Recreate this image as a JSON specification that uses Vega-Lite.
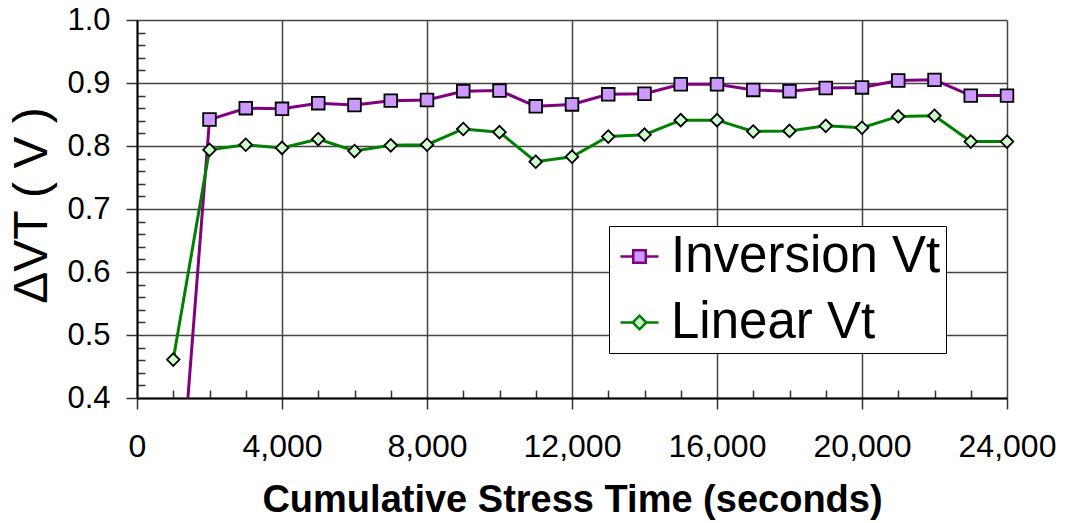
{
  "$schema": "https://vega.github.io/schema/vega-lite/v6.json",
  "width": 870,
  "height": 378,
  "autosize": {"type": "none"},
  "padding": {"left": 137, "top": 20, "right": 59, "bottom": 125},
  "background": "white",
  "config": {
    "view": {"stroke": null},
    "font": "Liberation Sans",
    "axis": {"labelFont": "Liberation Sans", "titleFont": "Liberation Sans", "labelColor": "black", "titleColor": "black"}
  },
  "data": {
    "values": [
      {"t": 1000, "series": "Inversion Vt", "v": 0.10},
      {"t": 2000, "series": "Inversion Vt", "v": 0.842},
      {"t": 3000, "series": "Inversion Vt", "v": 0.860},
      {"t": 4000, "series": "Inversion Vt", "v": 0.859},
      {"t": 5000, "series": "Inversion Vt", "v": 0.868},
      {"t": 6000, "series": "Inversion Vt", "v": 0.865},
      {"t": 7000, "series": "Inversion Vt", "v": 0.872},
      {"t": 8000, "series": "Inversion Vt", "v": 0.873},
      {"t": 9000, "series": "Inversion Vt", "v": 0.887},
      {"t": 10000, "series": "Inversion Vt", "v": 0.888},
      {"t": 11000, "series": "Inversion Vt", "v": 0.863},
      {"t": 12000, "series": "Inversion Vt", "v": 0.866},
      {"t": 13000, "series": "Inversion Vt", "v": 0.882},
      {"t": 14000, "series": "Inversion Vt", "v": 0.883},
      {"t": 15000, "series": "Inversion Vt", "v": 0.898},
      {"t": 16000, "series": "Inversion Vt", "v": 0.898},
      {"t": 17000, "series": "Inversion Vt", "v": 0.889},
      {"t": 18000, "series": "Inversion Vt", "v": 0.887},
      {"t": 19000, "series": "Inversion Vt", "v": 0.892},
      {"t": 20000, "series": "Inversion Vt", "v": 0.893},
      {"t": 21000, "series": "Inversion Vt", "v": 0.904},
      {"t": 22000, "series": "Inversion Vt", "v": 0.905},
      {"t": 23000, "series": "Inversion Vt", "v": 0.880},
      {"t": 24000, "series": "Inversion Vt", "v": 0.880},
      {"t": 1000, "series": "Linear Vt", "v": 0.461},
      {"t": 2000, "series": "Linear Vt", "v": 0.794},
      {"t": 3000, "series": "Linear Vt", "v": 0.802},
      {"t": 4000, "series": "Linear Vt", "v": 0.797},
      {"t": 5000, "series": "Linear Vt", "v": 0.811},
      {"t": 6000, "series": "Linear Vt", "v": 0.792},
      {"t": 7000, "series": "Linear Vt", "v": 0.801},
      {"t": 8000, "series": "Linear Vt", "v": 0.802},
      {"t": 9000, "series": "Linear Vt", "v": 0.827},
      {"t": 10000, "series": "Linear Vt", "v": 0.822},
      {"t": 11000, "series": "Linear Vt", "v": 0.775},
      {"t": 12000, "series": "Linear Vt", "v": 0.783},
      {"t": 13000, "series": "Linear Vt", "v": 0.815},
      {"t": 14000, "series": "Linear Vt", "v": 0.818},
      {"t": 15000, "series": "Linear Vt", "v": 0.841},
      {"t": 16000, "series": "Linear Vt", "v": 0.841},
      {"t": 17000, "series": "Linear Vt", "v": 0.823},
      {"t": 18000, "series": "Linear Vt", "v": 0.824},
      {"t": 19000, "series": "Linear Vt", "v": 0.832},
      {"t": 20000, "series": "Linear Vt", "v": 0.829},
      {"t": 21000, "series": "Linear Vt", "v": 0.847},
      {"t": 22000, "series": "Linear Vt", "v": 0.848},
      {"t": 23000, "series": "Linear Vt", "v": 0.807},
      {"t": 24000, "series": "Linear Vt", "v": 0.807}
    ]
  },
  "encoding": {
    "x": {
      "field": "t", "type": "quantitative",
      "scale": {"domain": [0, 24000], "nice": false, "zero": false},
      "axis": {
        "values": [0,1000,2000,3000,4000,5000,6000,7000,8000,9000,10000,11000,12000,13000,14000,15000,16000,17000,18000,19000,20000,21000,22000,23000,24000],
        "labelExpr": "datum.value % 4000 === 0 ? format(datum.value, ',') : ''",
        "labelFontSize": 32,
        "labelPadding": 22,
        "labelFlush": false,
        "labelOverlap": false,
        "domainColor": "black", "domainWidth": 2,
        "tickColor": "#333",
        "tickWidth": 1.5,
        "tickSize": {"condition": {"test": "datum.value % 4000 === 0", "value": 11}, "value": -8},
        "grid": true,
        "gridColor": "#444",
        "gridWidth": 1.5,
        "gridOpacity": {"condition": {"test": "datum.value % 4000 === 0", "value": 1}, "value": 0},
        "title": "Cumulative Stress Time (seconds)",
        "titleFontSize": 38,
        "titleFontWeight": "bold",
        "titleX": 435,
        "titleY": 113,
        "titleBaseline": "alphabetic",
        "titleAlign": "center"
      }
    },
    "y": {
      "field": "v", "type": "quantitative",
      "scale": {"domain": [0.4, 1.0], "nice": false, "zero": false},
      "axis": {
        "values": [0.4,0.42,0.44,0.46,0.48,0.5,0.52,0.54,0.56,0.58,0.6,0.62,0.64,0.66,0.68,0.7,0.72,0.74,0.76,0.78,0.8,0.82,0.84,0.86,0.88,0.9,0.92,0.94,0.96,0.98,1.0],
        "labelExpr": "abs(datum.value*10 - round(datum.value*10)) < 0.001 ? format(datum.value, '.1f') : ''",
        "labelFontSize": 31,
        "labelPadding": 16,
        "labelFlush": false,
        "labelOverlap": false,
        "labelBaseline": "middle",
        "domainColor": "black", "domainWidth": 2,
        "tickColor": "#333",
        "tickWidth": 1.5,
        "tickSize": {"condition": {"test": "abs(datum.value*10 - round(datum.value*10)) < 0.001", "value": 11}, "value": -8},
        "grid": true,
        "gridColor": "#444",
        "gridWidth": 1.5,
        "gridOpacity": {"condition": {"test": "abs(datum.value*10 - round(datum.value*10)) < 0.001", "value": 1}, "value": 0},
        "title": "ΔVT ( V )",
        "titleFontSize": 48,
        "titleFontWeight": "normal",
        "titleAngle": -90,
        "titleX": -91,
        "titleY": 185,
        "titleBaseline": "alphabetic",
        "titleAlign": "center"
      }
    }
  },
  "layer": [
    {
      "mark": {"type": "line", "strokeWidth": 3, "clip": true},
      "encoding": {
        "color": {
          "field": "series", "type": "nominal",
          "scale": {"domain": ["Inversion Vt", "Linear Vt"], "range": ["#800080", "#008000"]},
          "legend": {
            "title": null,
            "orient": "none",
            "legendX": 472,
            "legendY": 206,
            "fillColor": "white",
            "strokeColor": "black",
            "padding": 5,
            "rowPadding": 14,
            "labelFontSize": 51,
            "labelFont": "Liberation Sans",
            "labelColor": "black",
            "labelLimit": 500,
            "labelOffset": 6,
            "symbolSize": 1444,
            "symbolStrokeWidth": 2.5,
            "symbolType": "M-1,0H1",
            "encode": {
              "symbols": {
                "update": {
                  "shape": {"signal": "datum.value === 'Inversion Vt' ? 'M-1,0H-0.33M0.33,0H1M-0.33,-0.33H0.33V0.33H-0.33Z' : 'M-1,0H-0.36M0.36,0H1M0,-0.36L0.36,0L0,0.36L-0.36,0Z'"},
                  "fill": {"signal": "datum.value === 'Inversion Vt' ? '#cc99ff' : '#ccffcc'"},
                  "fillOpacity": {"value": 1},
                  "strokeWidth": {"value": 2.5}
                }
              }
            }
          }
        }
      }
    },
    {
      "transform": [{"filter": "datum.v >= 0.4 && datum.series === 'Inversion Vt'"}],
      "mark": {"type": "point", "shape": "square", "filled": true, "fill": "#cc99ff", "size": 160, "stroke": "black", "strokeWidth": 1.8, "opacity": 1}
    },
    {
      "transform": [{"filter": "datum.v >= 0.4 && datum.series === 'Linear Vt'"}],
      "mark": {"type": "point", "shape": "diamond", "filled": true, "fill": "#ccffcc", "size": 160, "stroke": "black", "strokeWidth": 1.8, "opacity": 1}
    }
  ]
}
